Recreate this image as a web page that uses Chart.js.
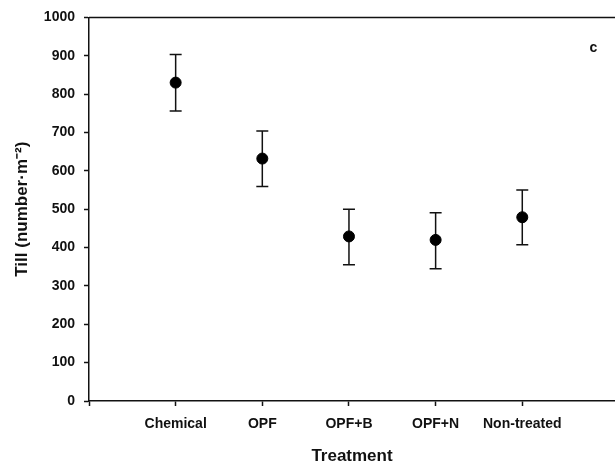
<!DOCTYPE html>
<html>
<head>
<meta charset="utf-8">
<script src="https://cdn.jsdelivr.net/npm/chart.js@4.4.1/dist/chart.umd.min.js"></script>
<style>
  html, body { margin: 0; padding: 0; background: #fff; }
  #wrap { width: 615px; height: 468px; }
</style>
</head>
<body>
<div id="wrap"><canvas id="tillChart"></canvas></div>
<script>
// treatment categories and readings (number per m2)
var treatments = ['Chemical', 'OPF', 'OPF+B', 'OPF+N', 'Non-treated'];
var tillMean = [830, 632, 429, 420, 479];
var tillLow = [756, 559, 355, 345, 407];
var tillHigh = [903, 704, 500, 491, 550];
var yTicks = [0, 100, 200, 300, 400, 500, 600, 700, 800, 900, 1000];

var FONT = "'Liberation Sans', Arial, sans-serif";

var points = treatments.map(function (t, i) {
    return { x: i + 1, y: tillMean[i] };
});

// draws the error bars, the top frame line and the panel letter
var extras = {
    id: 'extras',
    beforeDatasetsDraw: function (chart) {
        var ctx = chart.ctx, xs = chart.scales.x, ys = chart.scales.y;
        ctx.save();
        ctx.strokeStyle = '#111';
        ctx.lineWidth = 1.5;
        for (var i = 0; i < treatments.length; i++) {
            var px = xs.getPixelForValue(i + 1);
            var top = ys.getPixelForValue(tillHigh[i]);
            var bot = ys.getPixelForValue(tillLow[i]);
            ctx.beginPath();
            ctx.moveTo(px, top); ctx.lineTo(px, bot);
            ctx.moveTo(px - 6, top); ctx.lineTo(px + 6, top);
            ctx.moveTo(px - 6, bot); ctx.lineTo(px + 6, bot);
            ctx.stroke();
        }
        // top frame
        var a = chart.chartArea;
        ctx.beginPath();
        ctx.moveTo(a.left, a.top); ctx.lineTo(a.right, a.top);
        ctx.stroke();
        // panel letter
        ctx.fillStyle = '#111';
        ctx.font = 'bold 14px ' + FONT;
        ctx.textAlign = 'center';
        ctx.textBaseline = 'middle';
        ctx.fillText('c', xs.getPixelForValue(5.82), ys.getPixelForValue(919));
        ctx.restore();
    }
};

new Chart(document.getElementById('tillChart'), {
    type: 'scatter',
    data: {
        datasets: [{
            label: 'Till',
            data: points,
            pointRadius: 5.5,
            pointBackgroundColor: '#000',
            pointBorderColor: '#000',
            showLine: false,
            clip: false
        }]
    },
    options: {
        responsive: true,
        maintainAspectRatio: false,
        animation: false,
        layout: { autoPadding: false, padding: { top: 9, right: 0, bottom: 0, left: 0 } },
        plugins: {
            legend: { display: false },
            tooltip: { enabled: false }
        },
        scales: {
            x: {
                type: 'linear',
                min: 0,
                max: 6.07,
                afterBuildTicks: function (scale) {
                    scale.ticks = [0, 1, 2, 3, 4, 5].map(function (v) { return { value: v }; });
                },
                afterFit: function (scale) { scale.height = 67; },
                border: { display: true, color: '#111', width: 1.5 },
                grid: { drawOnChartArea: false, drawTicks: true, tickLength: 5, color: '#111', tickWidth: 1.5 },
                ticks: {
                    padding: 10,
                    color: '#111',
                    maxRotation: 0,
                    autoSkip: false,
                    font: { family: FONT, size: 14, weight: 'bold' },
                    callback: function (v) { return v >= 1 ? treatments[v - 1] : ''; }
                },
                title: {
                    display: true,
                    text: 'Treatment',
                    color: '#111',
                    font: { family: FONT, size: 17, weight: 'bold', lineHeight: 1.2 },
                    padding: { top: 14, bottom: 1 }
                }
            },
            y: {
                min: 0,
                max: 1000,
                afterBuildTicks: function (scale) {
                    scale.ticks = yTicks.map(function (v) { return { value: v }; });
                },
                afterFit: function (scale) { scale.width = 89; },
                border: { display: true, color: '#111', width: 1.5 },
                grid: { drawOnChartArea: false, drawTicks: true, tickLength: 5, color: '#111', tickWidth: 1.5 },
                ticks: {
                    padding: 9,
                    color: '#111',
                    font: { family: FONT, size: 14, weight: 'bold' },
                    callback: function (v) { return String(v); }
                },
                title: {
                    display: true,
                    text: 'Till (number\u00b7m\u207b\u00b2)',
                    color: '#111',
                    font: { family: FONT, size: 17, weight: 'bold', lineHeight: 1.2 },
                    padding: { top: 12, bottom: 0 }
                }
            }
        }
    },
    plugins: [extras]
});
</script>
</body>
</html>
